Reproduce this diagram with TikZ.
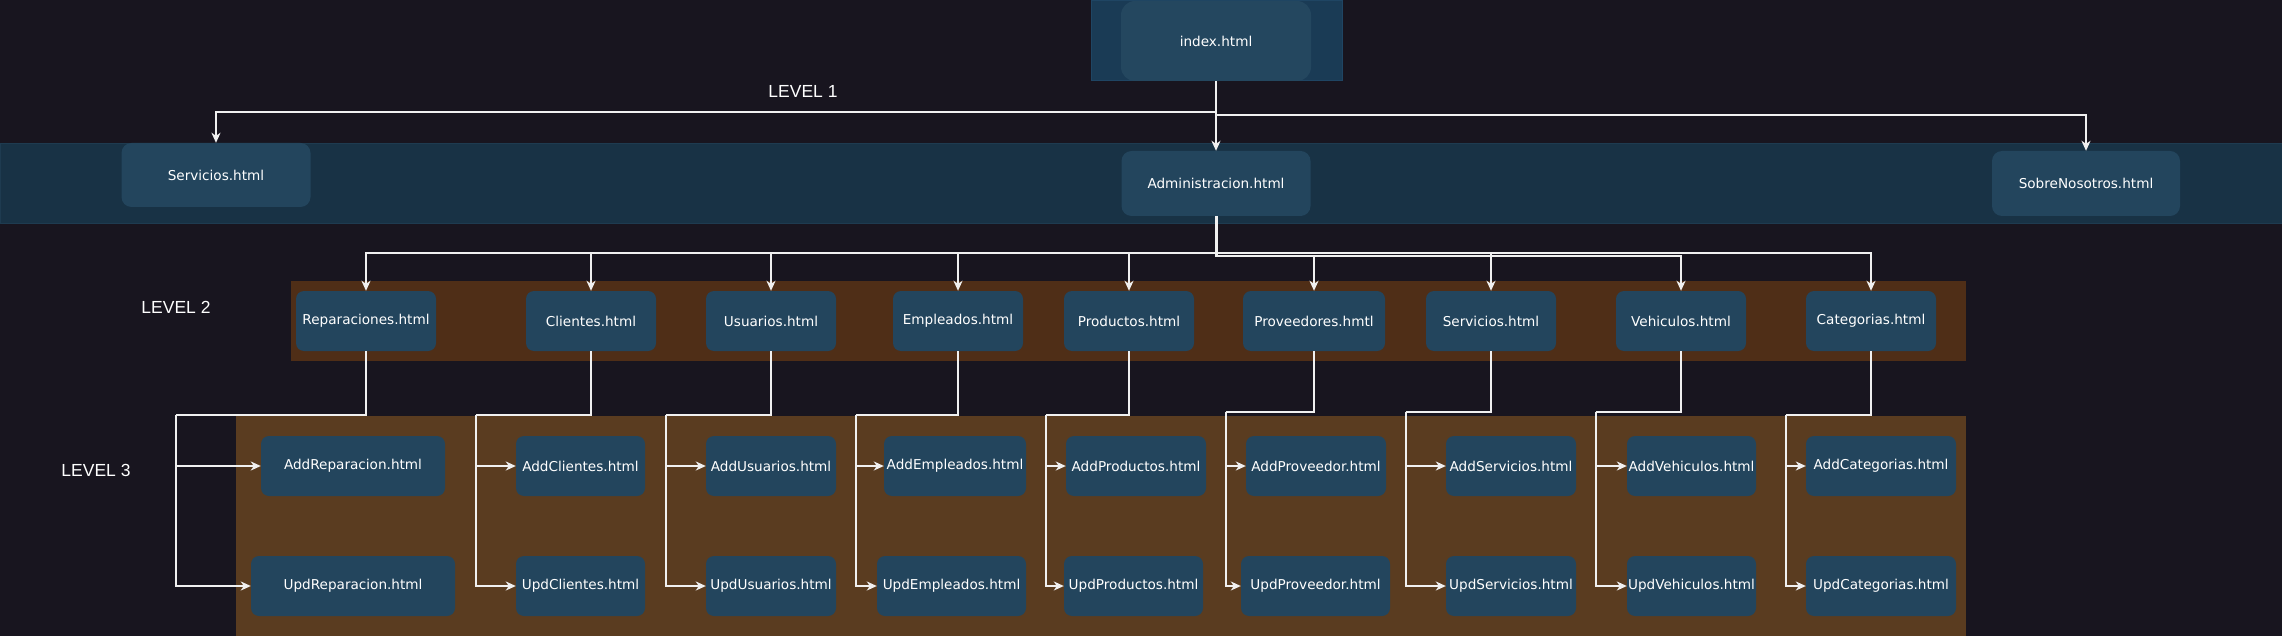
\documentclass[tikz,border=0pt]{standalone}
\usepackage{fontspec}
\newfontfamily\boxfontfam{DejaVu Sans}
\newfontfamily\lblfontfam{Liberation Sans}
\usetikzlibrary{arrows.meta}
\definecolor{bgc}{HTML}{18151F}
\definecolor{bandone}{HTML}{183245}
\definecolor{bandoneedge}{HTML}{1E3B50}
\definecolor{boxc}{HTML}{23455D}
\definecolor{idxouter}{HTML}{1A3B55}
\definecolor{idxedge}{HTML}{1F4563}
\definecolor{idxinner}{HTML}{24475F}
\definecolor{bandtwo}{HTML}{4F2E17}
\definecolor{bandthree}{HTML}{5A3C20}
\definecolor{linec}{HTML}{F0F0F0}
\tikzset{
  pg/.style={rectangle, rounded corners=8pt, fill=boxc, text=white, inner sep=0pt,
    font=\boxfontfam\fontsize{13.6pt}{16pt}\selectfont},
  lvl/.style={text=white, inner sep=0pt, font=\lblfontfam\fontsize{17.5pt}{20pt}\selectfont},
  conn/.style={draw=linec, line width=1.6pt, -{Stealth[length=10pt,width=9pt,inset=3pt]}},
  plain/.style={draw=linec, line width=1.6pt},
}
\begin{document}
\begin{tikzpicture}[x=1pt,y=-1pt]
\useasboundingbox (0,0) rectangle (2282,636);
\fill[bgc] (0,0) rectangle (2282,636);
% bands
\filldraw[fill=bandone, draw=bandoneedge, line width=0.8pt] (0,143) rectangle (2282,223);
\fill[bandtwo] (291,281) rectangle (1966,361);
\fill[bandthree] (236,416) rectangle (1966,636);
% index
\node[rectangle, fill=idxouter, draw=idxedge, line width=1pt, minimum width=251, minimum height=80, inner sep=0pt] (indexbg) at (1216.5,41) {};
\node[pg, fill=idxinner, rounded corners=14pt, minimum width=190, minimum height=80] (index) at (1216,41) {index.html};
% level labels
\node[lvl] (l1) at (803,91) {LEVEL 1};
\node[lvl] (l2) at (176,307) {LEVEL 2};
\node[lvl] (l3) at (96,470) {LEVEL 3};
% level 1
\node[pg, rounded corners=10pt, minimum width=189, minimum height=64] (serv1) at (216,175) {Servicios.html};
\node[pg, rounded corners=10pt, minimum width=189, minimum height=65] (admin) at (1216,183.5) {Administracion.html};
\node[pg, rounded corners=10pt, minimum width=188, minimum height=65] (sobre) at (2086,183.5) {SobreNosotros.html};
% level 2
\node[pg, minimum width=140, minimum height=60] (rep) at (366,321) {Reparaciones.html};
\node[pg, minimum width=130, minimum height=60] (cli) at (591,321) {Clientes.html};
\node[pg, minimum width=130, minimum height=60] (usu) at (771,321) {Usuarios.html};
\node[pg, minimum width=130, minimum height=60] (emp) at (958,321) {Empleados.html};
\node[pg, minimum width=130, minimum height=60] (pro) at (1129,321) {Productos.html};
\node[pg, minimum width=142, minimum height=60] (prov) at (1314,321) {Proveedores.hmtl};
\node[pg, minimum width=130, minimum height=60] (serv) at (1491,321) {Servicios.html};
\node[pg, minimum width=130, minimum height=60] (veh) at (1681,321) {Vehiculos.html};
\node[pg, minimum width=130, minimum height=60] (cat) at (1871,321) {Categorias.html};
% level 3 add
\node[pg, minimum width=184, minimum height=60] (addrep) at (353,466) {AddReparacion.html};
\node[pg, minimum width=129, minimum height=60] (addcli) at (580.5,466) {AddClientes.html};
\node[pg, minimum width=130, minimum height=60] (addusu) at (771,466) {AddUsuarios.html};
\node[pg, minimum width=142, minimum height=60] (addemp) at (955,466) {AddEmpleados.html};
\node[pg, minimum width=140, minimum height=60] (addpro) at (1136,466) {AddProductos.html};
\node[pg, minimum width=140, minimum height=60] (addprov) at (1316,466) {AddProveedor.html};
\node[pg, minimum width=130, minimum height=60] (addserv) at (1511,466) {AddServicios.html};
\node[pg, minimum width=129, minimum height=60] (addveh) at (1691.5,466) {AddVehiculos.html};
\node[pg, minimum width=150, minimum height=60] (addcat) at (1881,466) {AddCategorias.html};
% level 3 upd
\node[pg, minimum width=204, minimum height=60] (updrep) at (353,586) {UpdReparacion.html};
\node[pg, minimum width=129, minimum height=60] (updcli) at (580.5,586) {UpdClientes.html};
\node[pg, minimum width=130, minimum height=60] (updusu) at (771,586) {UpdUsuarios.html};
\node[pg, minimum width=149, minimum height=60] (updemp) at (951.5,586) {UpdEmpleados.html};
\node[pg, minimum width=139, minimum height=60] (updpro) at (1133.5,586) {UpdProductos.html};
\node[pg, minimum width=149, minimum height=60] (updprov) at (1315.5,586) {UpdProveedor.html};
\node[pg, minimum width=130, minimum height=60] (updserv) at (1511,586) {UpdServicios.html};
\node[pg, minimum width=129, minimum height=60] (updveh) at (1691.5,586) {UpdVehiculos.html};
\node[pg, minimum width=150, minimum height=60] (updcat) at (1881,586) {UpdCategorias.html};
% level 1 connectors
\draw[conn] (index.south) -- (admin.north);
\draw[conn] (index.south) |- (1216,112) -| (serv1.north);
\draw[conn] (index.south) |- (1216,115) -| (sobre.north);
% level 2 connectors
\coordinate (ja) at (1216,253);
\coordinate (jb) at (1216,256);
\draw[plain, line width=3pt] (admin.south) -- (jb);
\foreach \t in {rep,cli,usu,emp,pro,serv,cat}{
  \draw[conn] (admin.south) |- (ja) -| (\t.north);
}
\foreach \t in {prov,veh}{
  \draw[conn] (admin.south) |- (jb) -| (\t.north);
}
% level 3 connectors
\foreach \s/\bx/\by in {rep/176/415, cli/476/415, usu/666/415, emp/856/415, pro/1046/415, prov/1226/412, serv/1406/412, veh/1596/412, cat/1786/415}{
  \coordinate (b\s) at (\bx,\by);
  \draw[plain] (\s.south) |- (b\s);
  \draw[conn] (b\s) |- (add\s.west);
  \draw[conn] (b\s) |- (upd\s.west);
}
\end{tikzpicture}
\end{document}
